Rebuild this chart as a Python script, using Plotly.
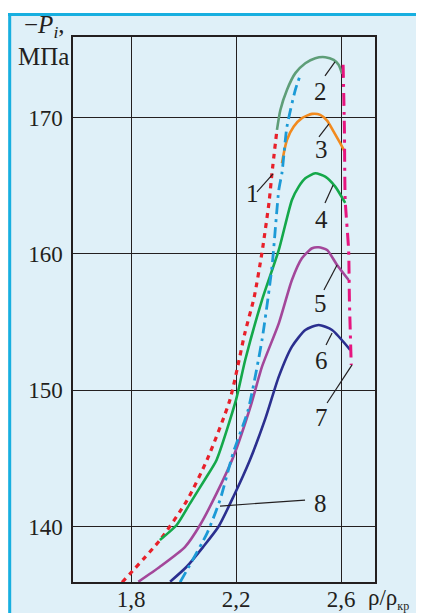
import plotly.graph_objects as go

# ---- data ----
x1 = [1.766, 1.910, 2.013, 2.090, 2.177, 2.234, 2.269, 2.299, 2.326, 2.337, 2.356]
y1 = [135.9, 139.0, 141.9, 144.9, 149.3, 154.2, 156.8, 160.1, 163.8, 165.9, 169.1]

x2 = [2.356, 2.369, 2.394, 2.426, 2.464, 2.502, 2.540, 2.572, 2.591, 2.604]
y2 = [169.09, 170.55, 172.02, 173.25, 173.98, 174.35, 174.42, 174.22, 173.86, 173.20]

x3 = [2.375, 2.382, 2.394, 2.420, 2.451, 2.490, 2.521, 2.547, 2.572, 2.597, 2.614]
y3 = [166.64, 167.38, 168.35, 169.33, 169.95, 170.26, 170.19, 169.77, 168.96, 168.11, 167.49]

x4 = [1.910, 1.974, 2.025, 2.088, 2.126, 2.200, 2.235, 2.299, 2.363, 2.413, 2.439, 2.464, 2.502, 2.540, 2.578, 2.616]
y4 = [139.01, 140.11, 141.70, 143.65, 144.88, 149.28, 152.21, 156.61, 160.28, 163.95, 164.93, 165.54, 165.91, 165.66, 164.93, 163.73]

x5 = [1.828, 1.910, 2.006, 2.063, 2.126, 2.190, 2.257, 2.299, 2.363, 2.413, 2.451, 2.490, 2.515, 2.547, 2.585, 2.629]
y5 = [135.95, 137.05, 138.51, 140.11, 142.43, 145.12, 148.91, 151.72, 154.90, 158.08, 159.67, 160.41, 160.48, 160.28, 159.18, 158.08]

x6 = [1.949, 2.012, 2.075, 2.133, 2.190, 2.253, 2.312, 2.363, 2.413, 2.464, 2.515, 2.566, 2.635]
y6 = [135.95, 137.05, 138.51, 139.98, 142.18, 144.88, 147.93, 150.99, 153.19, 154.41, 154.78, 154.41, 152.95]

x7 = [2.608, 2.613, 2.616, 2.629, 2.632, 2.639]
y7 = [173.86, 169.09, 163.95, 160.28, 156.61, 151.85]

x8 = [1.987, 2.090, 2.139, 2.189, 2.246, 2.299, 2.337, 2.363, 2.375, 2.394, 2.426, 2.445]
y8 = [135.92, 139.52, 141.94, 145.39, 148.54, 153.68, 159.04, 164.68, 165.93, 169.31, 172.02, 173.12]

x_tickvals = [1.8, 2.2, 2.6]
x_ticktext = ["1,8", "2,2", "2,6"]
y_tickvals = [140, 150, 160, 170]
y_ticktext = ["140", "150", "160", "170"]

curve_labels = ["1", "2", "3", "4", "5", "6", "7", "8"]

# ---- figure ----
BG = "#dff0f8"
CYAN = "#17afe0"
INK = "#231f20"
FONT = "Liberation Serif"

fig = go.Figure()

series = [
    (x1, y1, "#e8202a", "5px,5px", 3.2),
    (x2, y2, "#5e9e78", "solid", 2.6),
    (x3, y3, "#f28a1e", "solid", 2.6),
    (x4, y4, "#14a84a", "solid", 2.6),
    (x5, y5, "#a3479a", "solid", 2.6),
    (x6, y6, "#2b2f8f", "solid", 2.6),
    (x7, y7, "#e6157f", "13px,6px,3px,6px", 3.0),
    (x8, y8, "#1c9ad6", "11px,5px,3px,5px", 2.8),
]
for xs, ys, col, dash, w in series:
    fig.add_trace(go.Scatter(x=xs, y=ys, mode="lines",
                             line=dict(color=col, width=w, dash=dash,
                                       shape="spline", smoothing=0.6),
                             showlegend=False, hoverinfo="skip"))

# curve number labels with leader lines
label_pos = [
    (2.261, 164.4, (2.280, 164.54), (2.341, 165.86)),
    (2.520, 171.87, (2.539, 173.05), (2.577, 174.08)),
    (2.524, 167.62, (2.516, 168.57), (2.554, 169.53)),
    (2.524, 162.48, (2.539, 163.73), (2.570, 165.05)),
    (2.520, 156.39, (2.535, 157.35), (2.585, 159.18)),
    (2.524, 152.21, (2.543, 153.31), (2.566, 154.19)),
    (2.524, 148.03, (2.547, 149.06), (2.642, 151.85)),
    (2.520, 141.72, (2.463, 141.94), (2.139, 141.50)),
]
for txt, (lx, ly, p0, p1) in zip(curve_labels, label_pos):
    fig.add_shape(type="line", xref="x", yref="y", x0=p0[0], y0=p0[1],
                  x1=p1[0], y1=p1[1], line=dict(color=INK, width=1.2))
    fig.add_annotation(x=lx, y=ly, xref="x", yref="y", text=txt,
                       showarrow=False, font=dict(family=FONT, size=25, color=INK),
                       bgcolor="rgba(0,0,0,0)")

# frame decorations (white strip on top and cyan border)
fig.add_shape(type="rect", xref="paper", yref="paper", x0=-0.3, x1=1.3,
              y0=1.044, y1=1.2, fillcolor="white", line_width=0, layer="below")
fig.add_shape(type="line", xref="paper", yref="paper", x0=-0.2152, x1=1.3,
              y0=1.0413, y1=1.0413, line=dict(color=CYAN, width=3))
fig.add_shape(type="line", xref="paper", yref="paper", x0=-0.2096, x1=-0.2096,
              y0=-0.2, y1=1.044, line=dict(color=CYAN, width=3))

# axis titles
fig.add_annotation(xref="paper", yref="paper", x=-0.02, y=1.02,
                   xanchor="right", yanchor="middle", showarrow=False,
                   text="\u2212<i>P</i><sub><i>i</i></sub>,",
                   font=dict(family=FONT, size=25, color=INK))
fig.add_annotation(xref="paper", yref="paper", x=-0.008, y=0.965,
                   xanchor="right", yanchor="middle", showarrow=False,
                   text="МПа", font=dict(family=FONT, size=25, color=INK))
fig.add_annotation(xref="paper", yref="paper", x=0.970, y=-0.031,
                   xanchor="left", yanchor="middle", showarrow=False,
                   text="ρ/ρ<sub><span style='font-size:12px'>кр</span></sub>",
                   font=dict(family=FONT, size=23, color=INK))

fig.update_xaxes(range=[1.579, 2.7295], tickvals=x_tickvals, ticktext=x_ticktext,
                 showgrid=True, gridcolor=INK, gridwidth=1.3, zeroline=False,
                 showline=True, linecolor=INK, linewidth=1.5, mirror=True,
                 ticks="", automargin=False, ticklabelstandoff=-4,
                 tickfont=dict(family=FONT, size=23, color=INK))
fig.update_yaxes(range=[135.93, 175.9], tickvals=y_tickvals, ticktext=y_ticktext,
                 showgrid=True, gridcolor=INK, gridwidth=1.3, zeroline=False,
                 showline=True, linecolor=INK, linewidth=1.5, mirror=True,
                 ticks="", ticklabelstandoff=4, automargin=False,
                 tickfont=dict(family=FONT, size=23, color=INK))

# the page body adds an 8px margin, so the figure is 8px smaller and shifted
fig.update_layout(width=416, height=605,
                  margin=dict(l=65, r=49, t=29, b=31, pad=0, autoexpand=False),
                  paper_bgcolor=BG, plot_bgcolor=BG, showlegend=False)

fig.write_html("out.html")
